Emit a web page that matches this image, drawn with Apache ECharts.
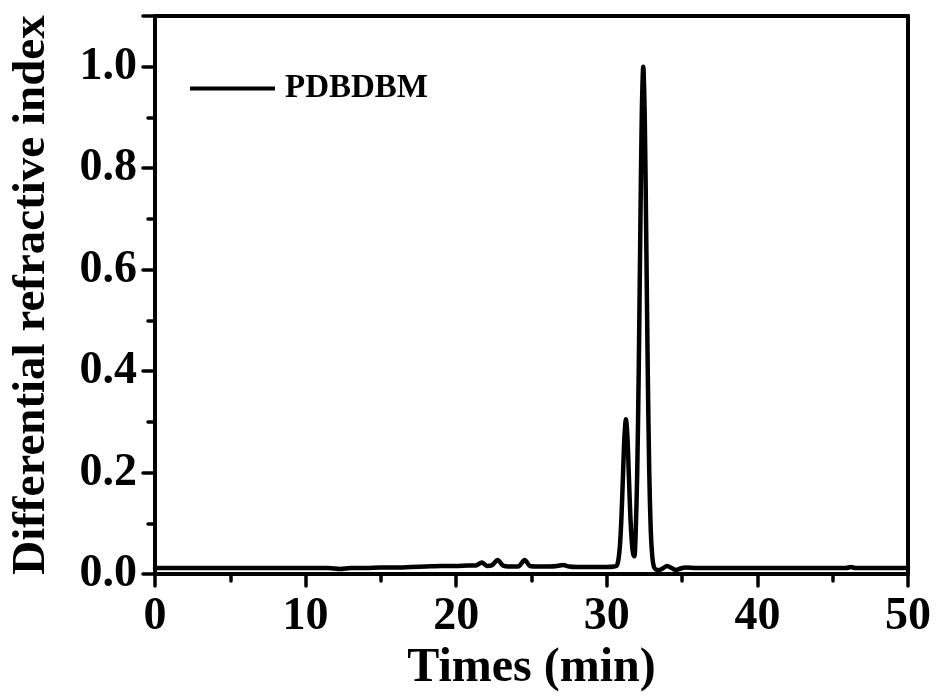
<!DOCTYPE html>
<html>
<head>
<meta charset="utf-8">
<script src="https://cdn.jsdelivr.net/npm/echarts@6/dist/echarts.min.js"></script>
<style>
  html, body { margin: 0; padding: 0; background: #fff; }
  #chart { width: 938px; height: 698px; }
</style>
</head>
<body>
<div id="chart"></div>
<script>
// GPC trace: elution time (min) and normalised differential refractive index
const seriesName = 'PDBDBM';
const times = [
  0, 2, 4, 6, 8, 10, 11.5, 12.3, 13, 14, 15, 16, 17, 18, 19, 20,
  20.8, 21.3, 21.7, 22.05, 22.4, 22.75, 23.1, 23.6, 24.1, 24.55, 24.9,
  25.5, 26.2, 26.7, 27.1, 27.5, 28, 29, 30, 30.5, 30.67, 30.77, 30.87,
  30.97, 31.07, 31.17, 31.27, 31.37, 31.47, 31.57, 31.67, 31.75, 31.83,
  31.92, 32.02, 32.12, 32.22, 32.32, 32.42, 32.52, 32.62, 32.72, 32.82,
  32.92, 33.02, 33.12, 33.25, 33.45, 33.7, 34.0, 34.3, 34.6, 34.9, 35.2,
  36, 38, 40, 42, 44, 45.9, 46.2, 46.5, 48, 50
];
const signal = [
  0.012, 0.012, 0.012, 0.012, 0.012, 0.012, 0.012, 0.010, 0.012, 0.012, 0.013, 0.013, 0.014, 0.015, 0.016, 0.016,
  0.017, 0.017, 0.023, 0.016, 0.018, 0.028, 0.017, 0.015, 0.015, 0.028, 0.016,
  0.015, 0.015, 0.016, 0.018, 0.015, 0.014, 0.014, 0.014, 0.015, 0.017, 0.028, 0.055,
  0.11, 0.19, 0.27, 0.305, 0.27, 0.19, 0.11, 0.06, 0.04, 0.035,
  0.085, 0.2, 0.4, 0.66, 0.9, 1.0, 0.9, 0.66, 0.4, 0.2,
  0.085, 0.035, 0.015, 0.009, 0.008, 0.011, 0.016, 0.012, 0.008, 0.011, 0.013,
  0.012, 0.012, 0.012, 0.012, 0.012, 0.012, 0.014, 0.012, 0.012, 0.012
];
const xTicks = [0, 10, 20, 30, 40, 50];
const yTicks = [0.0, 0.2, 0.4, 0.6, 0.8, 1.0];
const xTitle = 'Times (min)';
const yTitle = 'Differential refractive index';

const FONT = "'Liberation Serif', 'Times New Roman', 'DejaVu Serif', serif";
const points = times.map((t, i) => [t, signal[i]]);

const chart = echarts.init(document.getElementById('chart'), null, { renderer: 'canvas' });

const axisLine = { show: true, onZero: false, lineStyle: { color: '#000', width: 4 } };

chart.setOption({
  backgroundColor: '#fff',
  animation: false,
  grid: { left: 155, right: 30, top: 16, bottom: 120, containLabel: false },
  legend: {
    left: 190, top: 72, padding: 0,
    icon: 'rect', itemWidth: 85, itemHeight: 4,
    textStyle: { fontFamily: FONT, fontWeight: 'bold', fontSize: 33, color: '#000', padding: [0, 0, 0, 5] },
    data: [seriesName]
  },
  xAxis: [
    {
      type: 'value', position: 'bottom', min: xTicks[0], max: xTicks[xTicks.length - 1], interval: 10,
      axisLine,
      axisTick: { show: true, inside: false, length: 12, lineStyle: { color: '#000', width: 3.5, cap: 'round' } },
      minorTick: { show: true, splitNumber: 2, length: 7, lineStyle: { color: '#000', width: 3.5, cap: 'round' } },
      splitLine: { show: false },
      axisLabel: { margin: 20, color: '#000', fontFamily: FONT, fontWeight: 'bold', fontSize: 46 },
      name: xTitle, nameLocation: 'middle', nameGap: 64,
      nameTextStyle: { color: '#000', fontFamily: FONT, fontWeight: 'bold', fontSize: 48 }
    },
    {
      type: 'value', position: 'top', min: 0, max: 50,
      axisLine, axisTick: { show: false }, axisLabel: { show: false }, splitLine: { show: false }
    }
  ],
  yAxis: [
    {
      type: 'value', position: 'left', min: 0, max: 1.1, interval: 0.2,
      axisLine,
      axisTick: { show: true, inside: false, length: 12, lineStyle: { color: '#000', width: 3.5, cap: 'round' } },
      splitLine: { show: false },
      axisLabel: {
        margin: 18, color: '#000', fontFamily: FONT, fontWeight: 'bold', fontSize: 46,
        formatter: v => (yTicks.some(t => Math.abs(t - v) < 1e-6) ? v.toFixed(1) : '')
      },
      name: yTitle, nameLocation: 'middle', nameGap: 100,
      nameTextStyle: { color: '#000', fontFamily: FONT, fontWeight: 'bold', fontSize: 47 }
    },
    {
      // minor ticks every 0.1 on the left axis
      type: 'value', position: 'left', min: 0, max: 1.1, interval: 0.1,
      axisLine: { show: false },
      axisTick: { show: true, inside: false, length: 7, lineStyle: { color: '#000', width: 3.5, cap: 'round' } },
      axisLabel: { show: false }, splitLine: { show: false }
    },
    {
      type: 'value', position: 'right', min: 0, max: 1.1,
      axisLine, axisTick: { show: false }, axisLabel: { show: false }, splitLine: { show: false }
    }
  ],
  series: [
    {
      name: seriesName, type: 'line', xAxisIndex: 0, yAxisIndex: 0,
      data: points, showSymbol: false, symbol: 'none', smooth: 0.3,
      lineStyle: { color: '#000', width: 4.5, join: 'round', cap: 'round' },
      itemStyle: { color: '#000' }
    }
  ]
});
</script>
</body>
</html>
